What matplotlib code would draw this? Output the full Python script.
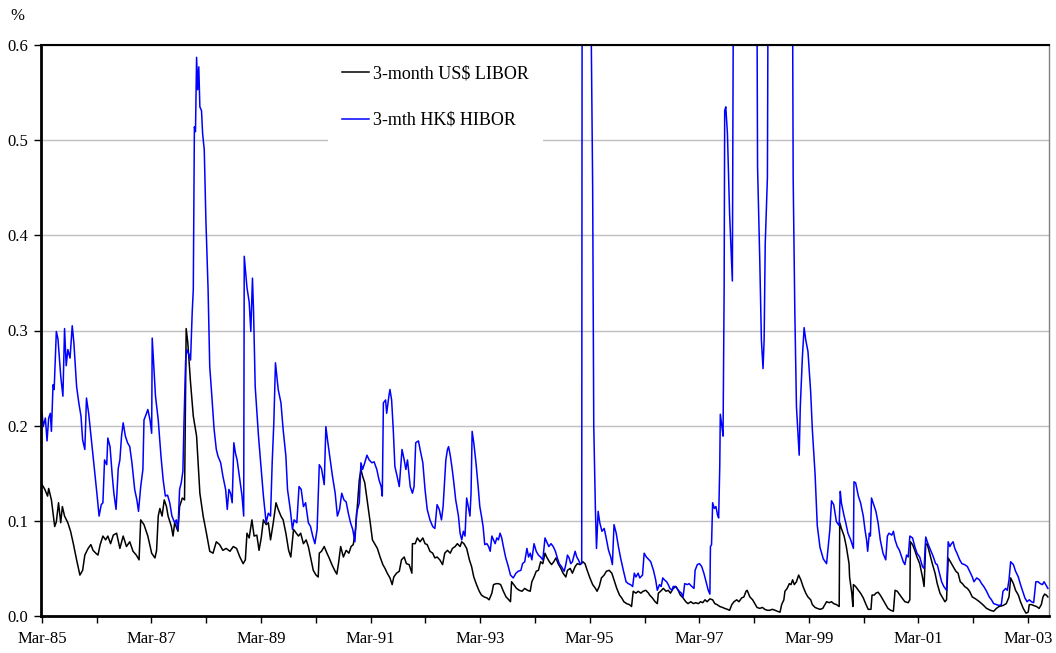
import matplotlib
matplotlib.use("Agg")
import matplotlib.pyplot as plt

# 3-month rates, weekly-ish readings; time as decimal years
libor_t = [
    1985.17, 1985.22, 1985.27, 1985.29, 1985.34, 1985.40, 1985.43, 1985.47, 1985.51, 1985.54,
    1985.58, 1985.64, 1985.69, 1985.74, 1985.80, 1985.86, 1985.91, 1985.95, 1986.01, 1986.06,
    1986.10, 1986.15, 1986.19, 1986.23, 1986.28, 1986.33, 1986.37, 1986.42, 1986.47, 1986.53,
    1986.59, 1986.65, 1986.71, 1986.77, 1986.83, 1986.89, 1986.94, 1986.97, 1987.03, 1987.10,
    1987.17, 1987.23, 1987.26, 1987.29, 1987.32, 1987.36, 1987.40, 1987.44, 1987.47, 1987.53,
    1987.56, 1987.59, 1987.65, 1987.68, 1987.73, 1987.77, 1987.80, 1987.83, 1987.88, 1987.93,
    1987.99, 1988.05, 1988.11, 1988.17, 1988.23, 1988.29, 1988.35, 1988.41, 1988.47, 1988.53,
    1988.60, 1988.66, 1988.72, 1988.78, 1988.84, 1988.88, 1988.91, 1988.95, 1989.00, 1989.04,
    1989.09, 1989.13, 1989.17, 1989.21, 1989.26, 1989.30, 1989.34, 1989.39, 1989.44, 1989.48,
    1989.53, 1989.57, 1989.62, 1989.67, 1989.71, 1989.76, 1989.81, 1989.85, 1989.89, 1989.94,
    1989.99, 1990.03, 1990.07, 1990.12, 1990.17, 1990.21, 1990.23, 1990.27, 1990.32, 1990.37,
    1990.41, 1990.46, 1990.51, 1990.55, 1990.58, 1990.62, 1990.67, 1990.72, 1990.77, 1990.81,
    1990.85, 1990.89, 1990.92, 1990.96, 1990.99, 1991.02, 1991.06, 1991.11, 1991.16, 1991.20,
    1991.25, 1991.29, 1991.34, 1991.39, 1991.43, 1991.47, 1991.52, 1991.56, 1991.59, 1991.64,
    1991.69, 1991.73, 1991.78, 1991.82, 1991.87, 1991.92, 1991.93, 1991.98, 1992.02, 1992.07,
    1992.12, 1992.16, 1992.20, 1992.25, 1992.30, 1992.34, 1992.38, 1992.43, 1992.48, 1992.52,
    1992.57, 1992.62, 1992.66, 1992.71, 1992.75, 1992.80, 1992.83, 1992.87, 1992.92, 1992.97,
    1993.01, 1993.05, 1993.10, 1993.15, 1993.19, 1993.24, 1993.29, 1993.33, 1993.38, 1993.41,
    1993.46, 1993.50, 1993.54, 1993.59, 1993.64, 1993.69, 1993.72, 1993.74, 1993.78, 1993.83,
    1993.88, 1993.93, 1993.98, 1994.03, 1994.08, 1994.11, 1994.15, 1994.19, 1994.23, 1994.27,
    1994.31, 1994.35, 1994.38, 1994.43, 1994.47, 1994.51, 1994.55, 1994.59, 1994.64, 1994.68,
    1994.73, 1994.76, 1994.81, 1994.85, 1994.90, 1994.94, 1994.99, 1995.04, 1995.08, 1995.12,
    1995.17, 1995.22, 1995.27, 1995.30, 1995.34, 1995.38, 1995.43, 1995.47, 1995.52, 1995.57,
    1995.61, 1995.66, 1995.71, 1995.75, 1995.79, 1995.84, 1995.89, 1995.93, 1995.96, 1996.01,
    1996.05, 1996.10, 1996.14, 1996.19, 1996.24, 1996.26, 1996.31, 1996.36, 1996.40, 1996.42,
    1996.46, 1996.51, 1996.56, 1996.60, 1996.64, 1996.69, 1996.74, 1996.78, 1996.82, 1996.87,
    1996.92, 1996.96, 1997.01, 1997.06, 1997.10, 1997.15, 1997.19, 1997.23, 1997.27, 1997.31,
    1997.36, 1997.41, 1997.45, 1997.49, 1997.54, 1997.59, 1997.63, 1997.68, 1997.72, 1997.76,
    1997.80, 1997.85, 1997.89, 1997.94, 1997.98, 1998.02, 1998.04, 1998.09, 1998.14, 1998.18,
    1998.22, 1998.27, 1998.32, 1998.36, 1998.41, 1998.45, 1998.50, 1998.55, 1998.59, 1998.64,
    1998.67, 1998.71, 1998.73, 1998.77, 1998.81, 1998.84, 1998.87, 1998.90, 1998.94, 1998.98,
    1999.02, 1999.06, 1999.11, 1999.15, 1999.20, 1999.23, 1999.28, 1999.32, 1999.37, 1999.42,
    1999.46, 1999.49, 1999.54, 1999.58, 1999.62, 1999.67, 1999.72, 1999.73, 1999.76, 1999.81,
    1999.85, 1999.90, 1999.91, 1999.95, 1999.97, 1999.98, 2000.02, 2000.07, 2000.11, 2000.16,
    2000.21, 2000.25, 2000.30, 2000.32, 2000.36, 2000.39, 2000.43, 2000.47, 2000.52, 2000.57,
    2000.61, 2000.66, 2000.71, 2000.74, 2000.78, 2000.83, 2000.88, 2000.92, 2000.98, 2001.01,
    2001.02, 2001.06, 2001.10, 2001.14, 2001.19, 2001.24, 2001.27, 2001.30, 2001.33, 2001.37,
    2001.42, 2001.47, 2001.51, 2001.56, 2001.61, 2001.65, 2001.68, 2001.71, 2001.75, 2001.80,
    2001.85, 2001.89, 2001.93, 2001.97, 2002.01, 2002.06, 2002.10, 2002.15, 2002.21, 2002.28,
    2002.34, 2002.41, 2002.48, 2002.54, 2002.59, 2002.64, 2002.71, 2002.77, 2002.82, 2002.85,
    2002.90, 2002.94, 2002.99, 2003.03, 2003.08, 2003.13, 2003.17, 2003.19, 2003.23, 2003.27,
    2003.32, 2003.37, 2003.41, 2003.44, 2003.47, 2003.50, 2003.53,
]
libor = [
    0.138, 0.133, 0.126, 0.134, 0.122, 0.094, 0.099, 0.119, 0.098, 0.115,
    0.105, 0.098, 0.089, 0.076, 0.059, 0.043, 0.048, 0.064, 0.071, 0.075,
    0.069, 0.066, 0.064, 0.075, 0.084, 0.080, 0.084, 0.076, 0.085, 0.087,
    0.071, 0.084, 0.073, 0.078, 0.068, 0.064, 0.059, 0.101, 0.096, 0.084,
    0.066, 0.061, 0.069, 0.105, 0.113, 0.105, 0.122, 0.115, 0.105, 0.094,
    0.084, 0.098, 0.089, 0.115, 0.124, 0.122, 0.302, 0.287, 0.245, 0.210,
    0.189, 0.129, 0.105, 0.087, 0.068, 0.066, 0.078, 0.075, 0.069, 0.071,
    0.068, 0.073, 0.071, 0.062, 0.055, 0.059, 0.087, 0.082, 0.101, 0.084,
    0.085, 0.069, 0.082, 0.101, 0.096, 0.098, 0.080, 0.098, 0.119, 0.112,
    0.105, 0.101, 0.087, 0.069, 0.062, 0.091, 0.087, 0.084, 0.087, 0.076,
    0.080, 0.073, 0.062, 0.048, 0.043, 0.041, 0.066, 0.068, 0.073, 0.066,
    0.061, 0.054, 0.048, 0.044, 0.055, 0.073, 0.062, 0.069, 0.066, 0.073,
    0.075, 0.091, 0.112, 0.143, 0.154, 0.147, 0.140, 0.119, 0.098, 0.080,
    0.075, 0.071, 0.062, 0.054, 0.050, 0.045, 0.040, 0.033, 0.041, 0.045,
    0.047, 0.059, 0.062, 0.055, 0.054, 0.045, 0.076, 0.076, 0.082, 0.078,
    0.082, 0.076, 0.075, 0.068, 0.066, 0.061, 0.062, 0.059, 0.054, 0.066,
    0.069, 0.066, 0.071, 0.073, 0.076, 0.073, 0.078, 0.076, 0.071, 0.059,
    0.052, 0.041, 0.033, 0.026, 0.022, 0.020, 0.019, 0.017, 0.024, 0.033,
    0.034, 0.034, 0.033, 0.026, 0.020, 0.017, 0.015, 0.036, 0.033, 0.029,
    0.027, 0.026, 0.029, 0.027, 0.026, 0.036, 0.041, 0.047, 0.048, 0.057,
    0.055, 0.066, 0.062, 0.057, 0.054, 0.057, 0.061, 0.055, 0.050, 0.045,
    0.041, 0.048, 0.050, 0.045, 0.052, 0.055, 0.054, 0.057, 0.055, 0.048,
    0.040, 0.033, 0.029, 0.026, 0.031, 0.040, 0.043, 0.047, 0.048, 0.045,
    0.038, 0.029, 0.022, 0.019, 0.015, 0.013, 0.012, 0.010, 0.026, 0.024,
    0.026, 0.024, 0.026, 0.027, 0.024, 0.022, 0.019, 0.015, 0.013, 0.024,
    0.026, 0.029, 0.026, 0.027, 0.024, 0.029, 0.031, 0.027, 0.022, 0.019,
    0.015, 0.013, 0.015, 0.013, 0.014, 0.013, 0.015, 0.014, 0.017, 0.015,
    0.018, 0.017, 0.013, 0.012, 0.010, 0.009, 0.008, 0.007, 0.006, 0.012,
    0.015, 0.017, 0.015, 0.019, 0.020, 0.026, 0.027, 0.020, 0.017, 0.013,
    0.009, 0.008, 0.009, 0.007, 0.006, 0.006, 0.007, 0.006, 0.005, 0.004,
    0.012, 0.017, 0.026, 0.029, 0.034, 0.033, 0.038, 0.033, 0.036, 0.043,
    0.038, 0.031, 0.024, 0.020, 0.017, 0.012, 0.009, 0.008, 0.007, 0.008,
    0.012, 0.015, 0.014, 0.015, 0.013, 0.012, 0.010, 0.098, 0.092, 0.084,
    0.073, 0.055, 0.041, 0.024, 0.010, 0.033, 0.031, 0.027, 0.024, 0.019,
    0.012, 0.007, 0.007, 0.022, 0.022, 0.024, 0.025, 0.022, 0.017, 0.012,
    0.008, 0.006, 0.005, 0.027, 0.026, 0.022, 0.018, 0.015, 0.014, 0.017,
    0.078, 0.075, 0.069, 0.062, 0.055, 0.041, 0.031, 0.076, 0.075, 0.066,
    0.055, 0.045, 0.034, 0.024, 0.019, 0.015, 0.017, 0.061, 0.057, 0.052,
    0.047, 0.045, 0.036, 0.034, 0.031, 0.029, 0.026, 0.020, 0.018, 0.015,
    0.012, 0.008, 0.006, 0.005, 0.008, 0.010, 0.011, 0.013, 0.020, 0.040,
    0.034, 0.027, 0.022, 0.015, 0.008, 0.003, 0.004, 0.012, 0.012, 0.011,
    0.010, 0.008, 0.012, 0.020, 0.023, 0.022, 0.020,
]

hibor_t = [
    1985.17, 1985.19, 1985.23, 1985.26, 1985.29, 1985.32, 1985.34, 1985.37, 1985.39, 1985.43,
    1985.46, 1985.51, 1985.55, 1985.58, 1985.61, 1985.64, 1985.68, 1985.72, 1985.75, 1985.80,
    1985.84, 1985.88, 1985.91, 1985.95, 1985.98, 1986.02, 1986.07, 1986.12, 1986.17, 1986.21,
    1986.25, 1986.28, 1986.31, 1986.35, 1986.37, 1986.41, 1986.45, 1986.48, 1986.52, 1986.56,
    1986.59, 1986.62, 1986.65, 1986.69, 1986.73, 1986.77, 1986.81, 1986.86, 1986.90, 1986.93,
    1986.97, 1987.01, 1987.03, 1987.07, 1987.10, 1987.14, 1987.17, 1987.18, 1987.21, 1987.24,
    1987.29, 1987.34, 1987.38, 1987.42, 1987.46, 1987.50, 1987.54, 1987.59, 1987.62, 1987.65,
    1987.68, 1987.71, 1987.74, 1987.76, 1987.79, 1987.81, 1987.85, 1987.88, 1987.91, 1987.93,
    1987.95, 1987.97, 1987.99, 1988.01, 1988.03, 1988.05, 1988.08, 1988.10, 1988.13, 1988.16,
    1988.20, 1988.23, 1988.26, 1988.31, 1988.35, 1988.38, 1988.43, 1988.47, 1988.52, 1988.55,
    1988.58, 1988.61, 1988.64, 1988.67, 1988.70, 1988.73, 1988.78, 1988.82, 1988.85, 1988.86,
    1988.91, 1988.95, 1988.98, 1989.01, 1989.03, 1989.06, 1989.12, 1989.16, 1989.21, 1989.26,
    1989.30, 1989.34, 1989.37, 1989.40, 1989.43, 1989.48, 1989.53, 1989.57, 1989.62, 1989.65,
    1989.70, 1989.74, 1989.77, 1989.82, 1989.86, 1989.90, 1989.94, 1989.98, 1990.03, 1990.07,
    1990.11, 1990.15, 1990.19, 1990.23, 1990.27, 1990.32, 1990.35, 1990.38, 1990.43, 1990.47,
    1990.52, 1990.56, 1990.60, 1990.64, 1990.68, 1990.72, 1990.76, 1990.80, 1990.84, 1990.88,
    1990.91, 1990.96, 1990.99, 1991.02, 1991.06, 1991.10, 1991.14, 1991.19, 1991.23, 1991.28,
    1991.32, 1991.36, 1991.38, 1991.40, 1991.44, 1991.46, 1991.50, 1991.52, 1991.55, 1991.58,
    1991.61, 1991.65, 1991.69, 1991.74, 1991.78, 1991.81, 1991.84, 1991.89, 1991.93, 1991.96,
    1991.99, 1992.04, 1992.07, 1992.12, 1992.16, 1992.20, 1992.25, 1992.30, 1992.34, 1992.38,
    1992.42, 1992.46, 1992.49, 1992.54, 1992.57, 1992.59, 1992.62, 1992.65, 1992.68, 1992.72,
    1992.77, 1992.80, 1992.83, 1992.86, 1992.89, 1992.92, 1992.95, 1992.98, 1993.00, 1993.02,
    1993.05, 1993.09, 1993.13, 1993.16, 1993.19, 1993.22, 1993.25, 1993.29, 1993.32, 1993.35,
    1993.38, 1993.41, 1993.44, 1993.47, 1993.50, 1993.53, 1993.56, 1993.59, 1993.63, 1993.68,
    1993.72, 1993.77, 1993.82, 1993.86, 1993.91, 1993.94, 1993.98, 1994.02, 1994.05, 1994.08,
    1994.11, 1994.15, 1994.19, 1994.23, 1994.27, 1994.31, 1994.35, 1994.38, 1994.42, 1994.46,
    1994.50, 1994.54, 1994.57, 1994.61, 1994.65, 1994.70, 1994.73, 1994.76, 1994.79, 1994.82,
    1994.85, 1994.90, 1994.93, 1994.96, 1994.99, 1995.02, 1995.03, 1995.10, 1995.17, 1995.22,
    1995.24, 1995.27, 1995.29, 1995.32, 1995.35, 1995.39, 1995.43, 1995.46, 1995.51, 1995.55,
    1995.58, 1995.61, 1995.65, 1995.69, 1995.73, 1995.78, 1995.83, 1995.87, 1995.91, 1995.95,
    1995.98, 1996.01, 1996.05, 1996.08, 1996.13, 1996.16, 1996.20, 1996.25, 1996.28, 1996.33,
    1996.37, 1996.40, 1996.44, 1996.47, 1996.50, 1996.53, 1996.57, 1996.60, 1996.63, 1996.67,
    1996.69, 1996.73, 1996.76, 1996.80, 1996.84, 1996.87, 1996.90, 1996.95, 1996.98, 1997.03,
    1997.07, 1997.09, 1997.13, 1997.17, 1997.21, 1997.25, 1997.29, 1997.33, 1997.36, 1997.37,
    1997.39, 1997.41, 1997.44, 1997.47, 1997.50, 1997.52, 1997.54, 1997.55, 1997.58, 1997.60,
    1997.62, 1997.63, 1997.65, 1997.68, 1997.72, 1997.77, 1997.80, 1997.90, 1998.05, 1998.21,
    1998.23, 1998.27, 1998.30, 1998.33, 1998.35, 1998.37, 1998.41, 1998.43, 1998.55, 1998.70,
    1998.86, 1998.88, 1998.91, 1998.94, 1998.99, 1999.01, 1999.05, 1999.08, 1999.11, 1999.15,
    1999.20, 1999.23, 1999.28, 1999.32, 1999.37, 1999.43, 1999.49, 1999.55, 1999.58, 1999.62,
    1999.67, 1999.72, 1999.74, 1999.76, 1999.81, 1999.84, 1999.88, 1999.93, 1999.98, 1999.99,
    2000.02, 2000.07, 2000.11, 2000.16, 2000.19, 2000.22, 2000.24, 2000.27, 2000.29, 2000.31,
    2000.35, 2000.39, 2000.43, 2000.47, 2000.52, 2000.57, 2000.60, 2000.63, 2000.68, 2000.71,
    2000.74, 2000.78, 2000.82, 2000.86, 2000.89, 2000.92, 2000.95, 2000.98, 2001.01, 2001.06,
    2001.10, 2001.14, 2001.19, 2001.24, 2001.27, 2001.30, 2001.34, 2001.39, 2001.44, 2001.48,
    2001.51, 2001.55, 2001.59, 2001.63, 2001.68, 2001.71, 2001.74, 2001.77, 2001.80, 2001.83,
    2001.87, 2001.92, 2001.96, 2002.01, 2002.06, 2002.10, 2002.15, 2002.18, 2002.23, 2002.28,
    2002.32, 2002.36, 2002.41, 2002.46, 2002.50, 2002.54, 2002.59, 2002.64, 2002.68, 2002.71,
    2002.76, 2002.79, 2002.82, 2002.85, 2002.90, 2002.94, 2002.99, 2003.03, 2003.07, 2003.11,
    2003.15, 2003.19, 2003.23, 2003.27, 2003.31, 2003.35, 2003.39, 2003.43, 2003.46, 2003.49,
    2003.53,
]
hibor = [
    0.213, 0.199, 0.208, 0.184, 0.208, 0.213, 0.194, 0.243, 0.238, 0.299,
    0.291, 0.252, 0.231, 0.302, 0.263, 0.280, 0.271, 0.305, 0.287, 0.241,
    0.224, 0.210, 0.185, 0.175, 0.229, 0.213, 0.185, 0.157, 0.129, 0.105,
    0.117, 0.119, 0.164, 0.159, 0.187, 0.178, 0.148, 0.129, 0.112, 0.155,
    0.164, 0.189, 0.203, 0.189, 0.182, 0.178, 0.161, 0.133, 0.122, 0.110,
    0.136, 0.154, 0.206, 0.212, 0.217, 0.206, 0.192, 0.292, 0.262, 0.231,
    0.206, 0.168, 0.143, 0.126, 0.127, 0.119, 0.105, 0.098, 0.101, 0.091,
    0.133, 0.140, 0.152, 0.203, 0.268, 0.280, 0.275, 0.269, 0.319, 0.343,
    0.514, 0.509, 0.587, 0.553, 0.577, 0.535, 0.531, 0.507, 0.490, 0.416,
    0.343, 0.262, 0.238, 0.196, 0.175, 0.168, 0.161, 0.147, 0.133, 0.112,
    0.133, 0.129, 0.119, 0.182, 0.171, 0.164, 0.143, 0.126, 0.105, 0.378,
    0.345, 0.330, 0.299, 0.355, 0.320, 0.241, 0.189, 0.161, 0.126, 0.098,
    0.108, 0.105, 0.161, 0.203, 0.266, 0.238, 0.224, 0.196, 0.168, 0.133,
    0.112, 0.091, 0.101, 0.098, 0.136, 0.133, 0.115, 0.119, 0.098, 0.094,
    0.084, 0.076, 0.091, 0.159, 0.155, 0.138, 0.199, 0.185, 0.164, 0.147,
    0.129, 0.105, 0.112, 0.129, 0.122, 0.120, 0.108, 0.098, 0.091, 0.078,
    0.108, 0.119, 0.161, 0.154, 0.161, 0.169, 0.164, 0.161, 0.162, 0.154,
    0.143, 0.136, 0.126, 0.224, 0.227, 0.213, 0.231, 0.238, 0.227, 0.196,
    0.157, 0.147, 0.136, 0.175, 0.164, 0.154, 0.164, 0.136, 0.129, 0.136,
    0.182, 0.184, 0.175, 0.161, 0.133, 0.112, 0.101, 0.094, 0.092, 0.117,
    0.112, 0.101, 0.115, 0.164, 0.175, 0.178, 0.169, 0.157, 0.143, 0.122,
    0.105, 0.087, 0.080, 0.089, 0.084, 0.124, 0.115, 0.105, 0.129, 0.194,
    0.182, 0.161, 0.136, 0.115, 0.105, 0.094, 0.075, 0.076, 0.073, 0.068,
    0.084, 0.080, 0.076, 0.082, 0.080, 0.087, 0.082, 0.073, 0.062, 0.052,
    0.043, 0.040, 0.045, 0.047, 0.048, 0.055, 0.057, 0.071, 0.062, 0.066,
    0.059, 0.076, 0.068, 0.064, 0.062, 0.059, 0.082, 0.078, 0.073, 0.076,
    0.073, 0.068, 0.062, 0.055, 0.052, 0.047, 0.054, 0.064, 0.061, 0.055,
    0.057, 0.068, 0.062, 0.059, 0.055, 0.055, 0.850, 0.800, 0.760, 0.450,
    0.200, 0.112, 0.071, 0.110, 0.098, 0.089, 0.092, 0.084, 0.069, 0.062,
    0.054, 0.096, 0.087, 0.073, 0.061, 0.048, 0.036, 0.034, 0.033, 0.031,
    0.045, 0.041, 0.045, 0.040, 0.043, 0.066, 0.062, 0.059, 0.057, 0.048,
    0.038, 0.027, 0.033, 0.031, 0.040, 0.038, 0.036, 0.033, 0.029, 0.027,
    0.031, 0.031, 0.029, 0.026, 0.024, 0.020, 0.034, 0.033, 0.034, 0.031,
    0.029, 0.048, 0.054, 0.055, 0.052, 0.045, 0.036, 0.027, 0.023, 0.073,
    0.075, 0.119, 0.113, 0.115, 0.106, 0.103, 0.157, 0.212, 0.199, 0.189,
    0.344, 0.531, 0.535, 0.507, 0.422, 0.352, 0.850, 0.950, 0.900, 0.800,
    0.472, 0.375, 0.290, 0.260, 0.290, 0.391, 0.461, 0.800, 0.950, 0.850,
    0.800, 0.461, 0.321, 0.220, 0.169, 0.220, 0.274, 0.303, 0.290, 0.278,
    0.235, 0.196, 0.149, 0.095, 0.072, 0.060, 0.055, 0.091, 0.121, 0.117,
    0.099, 0.095, 0.131, 0.119, 0.105, 0.098, 0.087, 0.080, 0.071, 0.141,
    0.140, 0.126, 0.119, 0.105, 0.091, 0.080, 0.068, 0.087, 0.084, 0.124,
    0.117, 0.110, 0.098, 0.080, 0.066, 0.059, 0.084, 0.087, 0.085, 0.089,
    0.080, 0.073, 0.069, 0.062, 0.057, 0.054, 0.064, 0.062, 0.084, 0.082,
    0.073, 0.066, 0.062, 0.052, 0.050, 0.083, 0.076, 0.069, 0.062, 0.055,
    0.054, 0.045, 0.036, 0.031, 0.027, 0.078, 0.073, 0.076, 0.078, 0.071,
    0.066, 0.059, 0.055, 0.054, 0.052, 0.047, 0.041, 0.036, 0.040, 0.038,
    0.034, 0.031, 0.026, 0.020, 0.017, 0.013, 0.012, 0.011, 0.012, 0.026,
    0.029, 0.027, 0.038, 0.057, 0.054, 0.047, 0.041, 0.033, 0.026, 0.019,
    0.015, 0.017, 0.015, 0.014, 0.036, 0.036, 0.034, 0.033, 0.036, 0.033,
    0.029,
]

# March of each year on the axis; only odd years get a label
tick_years = list(range(1985, 2004))
tick_labels = [f"Mar-{y % 100:02d}" if y % 2 == 1 else "" for y in tick_years]
y_ticks = [0.0, 0.1, 0.2, 0.3, 0.4, 0.5, 0.6]

plt.rcParams["font.family"] = ["Liberation Serif", "DejaVu Serif"]
plt.rcParams["font.size"] = 12

fig = plt.figure(figsize=(10.56, 6.53), dpi=100)
ax = fig.add_axes([41 / 1056, 37 / 653, 1008 / 1056, 571 / 653])

ax.plot(libor_t, libor, color="black", lw=1.1, label="3-month US$ LIBOR")
ax.plot(hibor_t, hibor, color="#0000FF", lw=1.1, label="3-mth HK$ HIBOR")

ax.set_xlim(1985.15, 2003.55)
ax.set_ylim(0, 0.6)

ax.set_xticks([y + 2 / 12 for y in tick_years])
ax.set_xticklabels(tick_labels)
ax.set_yticks(y_ticks)
ax.set_yticklabels([f"{v:.1f}" for v in y_ticks])
ax.tick_params(direction="out", length=5, width=1, colors="black", pad=4)
ax.tick_params(axis="x", pad=6)

ax.yaxis.grid(True, color="#c0c0c0", lw=1.0)
ax.set_axisbelow(True)

for side in ["left", "bottom"]:
    ax.spines[side].set_linewidth(2)
ax.spines["top"].set_linewidth(1.5)
ax.spines["right"].set_color("#808080")
ax.spines["right"].set_linewidth(1)

# legend sits on a plain white box that hides the gridline behind it
leg = ax.legend(loc="upper left", bbox_to_anchor=(0.2843, 0.990), borderaxespad=0,
                frameon=True, fancybox=False, framealpha=1, facecolor="white",
                edgecolor="none", borderpad=0.8, handlelength=1.5,
                handletextpad=0.22, labelspacing=1.65, fontsize=13)

fig.text(10 / 1056, 1 - 16 / 653, "%", fontsize=12, va="center", ha="left")

fig.savefig("out.png", dpi=100)
